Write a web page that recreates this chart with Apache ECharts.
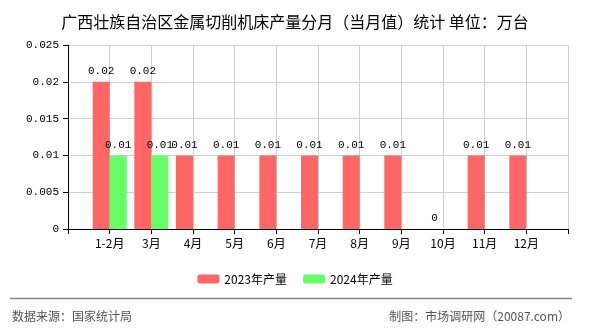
<!DOCTYPE html>
<html><head><meta charset="utf-8">
<script src="https://cdn.jsdelivr.net/npm/echarts@6/dist/echarts.min.js"></script>
<style>html,body{margin:0;padding:0;background:#fff}#c{width:590px;height:330px}</style>
</head><body><div id="c"></div>
<script>
var months = ['1-2月','3月','4月','5月','6月','7月','8月','9月','10月','11月','12月'];
var values2023 = [0.02, 0.02, 0.01, 0.01, 0.01, 0.01, 0.01, 0.01, 0, 0.01, 0.01];
var values2024 = [0.01, 0.01];
var yTicks = [0, 0.005, 0.01, 0.015, 0.02, 0.025];

var cats = [''].concat(months).concat(['']);
function pad(arr){ var out = [null]; for (var i=0;i<months.length;i++){ out.push(i<arr.length ? arr[i] : null); } out.push(null); return out; }

var chart = echarts.init(document.getElementById('c'));
var labelStyle = { show:true, position:'top', color:'#000', fontSize:11, fontFamily:'Liberation Mono, monospace', distance:5, formatter:function(p){return String(p.value);} };
chart.setOption({
  animation:false,
  title:{ text:'广西壮族自治区金属切削机床产量分月（当月值）统计 单位：万台', left:'center', top:9,
    textStyle:{ fontSize:16, fontWeight:'normal', color:'#000', fontFamily:'Noto Sans CJK SC' } },
  legend:{ top:268, left:'center', itemWidth:22, itemHeight:9, itemGap:16,
    textStyle:{ fontSize:12, color:'#000', fontFamily:'Noto Sans CJK SC' },
    data:['2023年产量','2024年产量'] },
  grid:{ left:68, right:22, top:45, bottom:101, containLabel:false },
  xAxis:{ type:'category', data:cats, boundaryGap:false,
    axisLine:{ lineStyle:{ color:'#000' } },
    axisTick:{ show:true, alignWithLabel:true, length:5, lineStyle:{ color:'#000' } },
    axisLabel:{ color:'#000', fontSize:12, fontFamily:'Noto Sans CJK SC', interval:0, margin:8 },
    splitLine:{ show:true, lineStyle:{ color:'#d0d0d0' } } },
  yAxis:{ type:'value', min:0, max:0.025, interval:0.005,
    axisLine:{ show:true, lineStyle:{ color:'#000' } },
    axisTick:{ show:true, length:5, lineStyle:{ color:'#000' } },
    axisLabel:{ color:'#000', fontSize:11, fontFamily:'Liberation Mono, monospace', margin:9,
      formatter:function(v){ for (var i=0;i<yTicks.length;i++){ if (Math.abs(v-yTicks[i])<1e-9) return String(yTicks[i]); } return ''; } },
    splitLine:{ show:true, lineStyle:{ color:'#d0d0d0' } } },
  series:[
    { name:'2023年产量', type:'bar', data:pad(values2023), barWidth:17, barGap:'0%',
      itemStyle:{ color:'#ff6666' }, label:labelStyle },
    { name:'2024年产量', type:'bar', data:pad(values2024), barWidth:17, barGap:'0%',
      itemStyle:{ color:'#66ff66' }, label:labelStyle }
  ],
  graphic:[
    { type:'line', shape:{ x1:10, y1:298.5, x2:572, y2:298.5 }, style:{ stroke:'#888', lineWidth:1.5 } },
    { type:'text', left:12, top:310, style:{ text:'数据来源：国家统计局', fontSize:12, fill:'#555', fontFamily:'Noto Sans CJK SC' } },
    { type:'text', right:20, top:310, style:{ text:'制图：市场调研网（20087.com）', fontSize:12, fill:'#555', fontFamily:'Noto Sans CJK SC' } }
  ]
});
</script></body></html>
